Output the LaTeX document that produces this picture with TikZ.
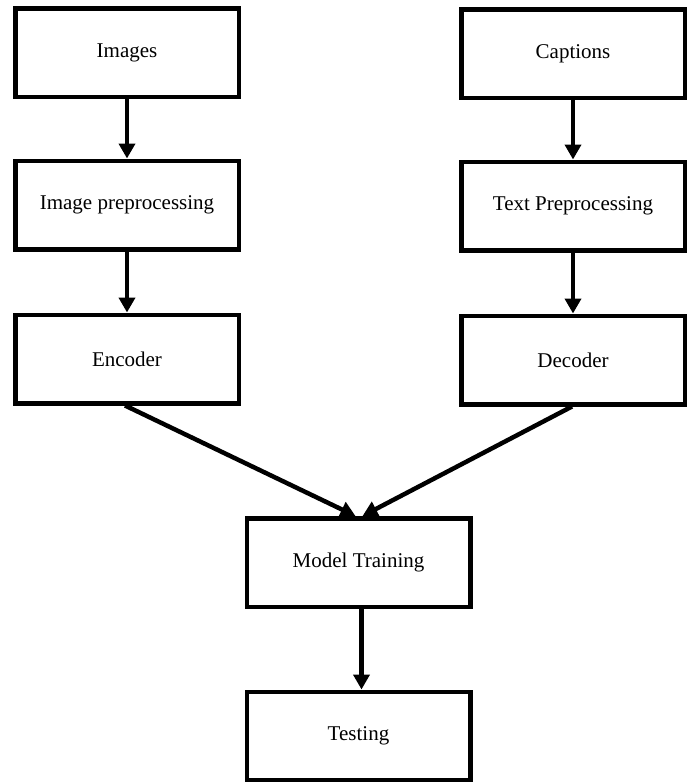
\documentclass[tikz,border=0pt]{standalone}
\usepackage{fontspec}
\setmainfont{Liberation Serif}
\usetikzlibrary{arrows.meta}
\begin{document}
\begin{tikzpicture}[x=1pt,y=-1pt,
  box/.style={draw=black, line width=4.5pt, fill=white, rectangle,
    minimum width=223.5pt, minimum height=88.5pt, inner sep=0pt,
    font=\fontsize{21}{25}\selectfont},
  arr/.style={line width=4.5pt, -{Triangle[length=15pt,width=16pt]}}]
\useasboundingbox (0,0) rectangle (690,782);
\node[box] (img)  at (127,52.5)  {Images};
\node[box] (ip)   at (127,205)   {Image preprocessing};
\node[box] (enc)  at (127,359)   {Encoder};
\node[box] (cap)  at (573,53.5)  {Captions};
\node[box] (tp)   at (573,206)   {Text Preprocessing};
\node[box] (dec)  at (573,360)   {Decoder};
\node[box] (mt)   at (358.5,562.5) {Model Training};
\node[box] (test) at (358.5,736) {Testing};
\draw[arr] (img) -- (ip);
\draw[arr] (ip) -- (enc);
\draw[arr] (cap) -- (tp);
\draw[arr] (tp) -- (dec);
\draw[arr] ([xshift=-2pt]enc.south) -- ([xshift=-3pt]mt.north);
\draw[arr] ([xshift=-1pt]dec.south) -- ([xshift=4pt]mt.north);
\draw[arr] ([xshift=3pt]mt.south) -- ([xshift=3pt]test.north);
\end{tikzpicture}
\end{document}
